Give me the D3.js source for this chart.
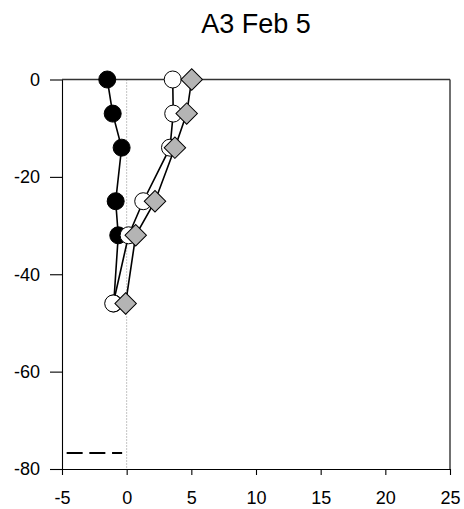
<!DOCTYPE html>
<html>
<head>
<meta charset="utf-8">
<script src="https://cdn.jsdelivr.net/npm/d3@7"></script>
<style>
  html, body { margin: 0; padding: 0; background: #fff; }
  svg { display: block; font-family: "Liberation Sans", Arial, sans-serif; }
</style>
</head>
<body>
<svg id="chart" width="464" height="509"></svg>
<script>
const title = "A3 Feb 5";
const depths = [0, -7, -14, -25, -32, -46];
const seriesBlack = [-1.5, -1.08, -0.39, -0.85, -0.65, -1.0];
const seriesWhite = [3.56, 3.6, 3.35, 1.28, 0.15, -1.04];
const seriesDiamond = [5.03, 4.64, 3.73, 2.19, 0.7, -0.08];
const xTicks = [-5, 0, 5, 10, 15, 20, 25];
const yTicks = [0, -20, -40, -60, -80];
const bottomDepth = -76.7;
const bottomX = [-4.64, -0.35];

const svg = d3.select("#chart");
const pLeft = 62, pRight = 450, pTop = 79.5, pBottom = 469;
const x = d3.scaleLinear().domain([-5, 25]).range([pLeft, pRight]);
const y = d3.scaleLinear().domain([-80, 0]).range([pBottom, pTop]);

// title
svg.append("text")
  .attr("x", (pLeft + pRight) / 2)
  .attr("y", 33)
  .attr("text-anchor", "middle")
  .attr("font-size", 27)
  .attr("fill", "#000")
  .text(title);

// zero dotted line
svg.append("line")
  .attr("x1", x(0)).attr("x2", x(0))
  .attr("y1", y(0)).attr("y2", y(-80))
  .attr("stroke", "#888").attr("stroke-width", 1)
  .attr("stroke-dasharray", "1,2");

// shadow filter
const defs = svg.append("defs");
defs.append("filter").attr("id", "blur")
  .attr("x", "-20%").attr("y", "-200%").attr("width", "140%").attr("height", "500%")
  .append("feGaussianBlur").attr("stdDeviation", 1.6);

// bottom depth dashed line with shadow
svg.append("line")
  .attr("x1", x(bottomX[0])).attr("x2", x(bottomX[1]))
  .attr("y1", y(bottomDepth) + 5).attr("y2", y(bottomDepth) + 5)
  .attr("stroke", "#d8d8d8").attr("stroke-width", 5)
  .attr("stroke-dasharray", "16,6.7")
  .attr("filter", "url(#blur)");
svg.append("line")
  .attr("x1", x(bottomX[0])).attr("x2", x(bottomX[1]))
  .attr("y1", y(bottomDepth)).attr("y2", y(bottomDepth))
  .attr("stroke", "#000").attr("stroke-width", 2)
  .attr("stroke-dasharray", "16,6.7");

// axes
const fmt = d => String(d);
const yAxis = d3.axisLeft(y).tickValues(yTicks).tickFormat(fmt).tickSize(12).tickSizeOuter(0).tickPadding(10);
const xAxis = d3.axisBottom(x).tickValues(xTicks).tickFormat(fmt).tickSize(6).tickSizeOuter(0).tickPadding(16);

const gy = svg.append("g").attr("transform", `translate(${pLeft},0)`).call(yAxis);
const gx = svg.append("g").attr("transform", `translate(0,${pBottom})`).call(xAxis);
[gx, gy].forEach(g => {
  g.selectAll("text").attr("font-size", 18).attr("fill", "#000").attr("font-family", '"Liberation Sans", Arial, sans-serif');
  g.selectAll("line, path").attr("stroke", "#000").attr("stroke-width", 1.1);
});

// top & right borders
svg.append("line").attr("x1", pLeft).attr("x2", pRight).attr("y1", pTop).attr("y2", pTop)
  .attr("stroke", "#333").attr("stroke-width", 1.4);
svg.append("line").attr("x1", pRight).attr("x2", pRight).attr("y1", pTop).attr("y2", pBottom)
  .attr("stroke", "#333").attr("stroke-width", 1.4);

// series
const line = d3.line().x(d => x(d[0])).y(d => y(d[1]));
function pts(vals) { return vals.map((v, i) => [v, depths[i]]); }

function drawSeries(vals, shape, fill) {
  const data = pts(vals);
  svg.append("path").datum(data)
    .attr("d", line).attr("fill", "none")
    .attr("stroke", "#000").attr("stroke-width", 1.6);
  if (shape === "circle") {
    svg.append("g").selectAll("circle").data(data).join("circle")
      .attr("cx", d => x(d[0])).attr("cy", d => y(d[1])).attr("r", 8.5)
      .attr("fill", fill).attr("stroke", "#000").attr("stroke-width", 1);
  } else {
    const sym = d3.symbol().type(d3.symbolSquare).size(230);
    svg.append("g").selectAll("path").data(data).join("path")
      .attr("d", sym)
      .attr("transform", d => `translate(${x(d[0])},${y(d[1])}) rotate(45)`)
      .attr("fill", fill).attr("stroke", "#000").attr("stroke-width", 1);
  }
}

drawSeries(seriesBlack, "circle", "#000");
drawSeries(seriesWhite, "circle", "#fff");
drawSeries(seriesDiamond, "diamond", "#b4b4b4");
</script>
</body>
</html>
